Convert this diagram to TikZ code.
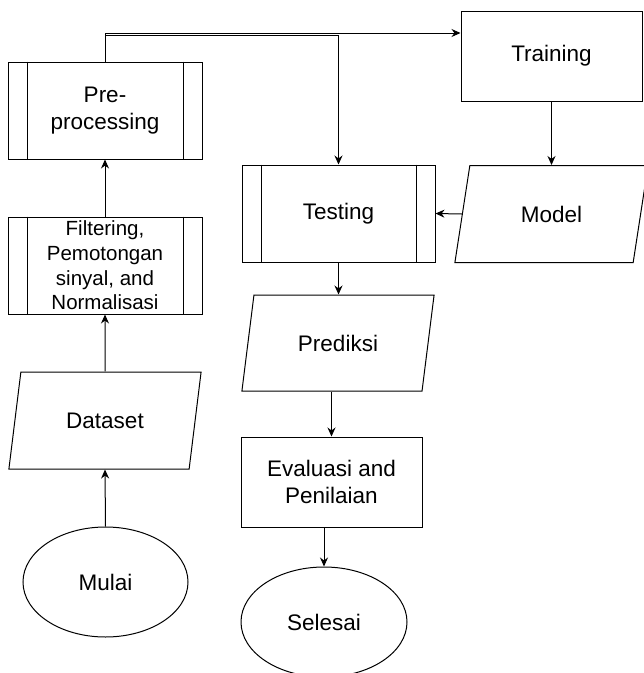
\documentclass[tikz,border=0pt]{standalone}
\usepackage{fontspec}
\setmainfont{Liberation Sans}
\usetikzlibrary{shapes.geometric,arrows.meta}
\tikzset{
    box/.style={draw, line width=1pt, rectangle, minimum width=#1, align=center,
        font=\fontsize{22.5}{27}\selectfont},
    io/.style={draw, line width=1pt, trapezium, trapezium left angle=75,
        trapezium right angle=105, trapezium stretches=true,
        minimum width=194pt, minimum height=97pt, font=\fontsize{22.5}{27}\selectfont},
    term/.style={draw, line width=1pt, ellipse, minimum width=165pt, minimum height=110pt,
        font=\fontsize{22.5}{27}\selectfont},
    arr/.style={line width=1pt, -{Stealth[length=9pt, width=8pt]}},
}
\newcommand{\sidebars}[1]{%
    \draw[line width=1pt] ([xshift=20pt]#1.north west) -- ([xshift=20pt]#1.south west);
    \draw[line width=1pt] ([xshift=-19pt]#1.north east) -- ([xshift=-19pt]#1.south east);}
\begin{document}
\begin{tikzpicture}[x=1pt, y=-1pt]
        \useasboundingbox (0, 0) rectangle (644, 673);
        \clip (0, 0) rectangle (644, 673);
        % left column
        \node[term] (mulai) at (105.5, 582) {Mulai};
        \node[io] (data) at (105, 420.5) {Dataset};
        \node[box=194pt, minimum height=97pt, font=\fontsize{20.5}{24.7}\selectfont] (filt) at (105, 265.5)
            {Filtering,\\Pemotongan\\sinyal, and\\Normalisasi};
        \sidebars{filt}
        \node[box=194pt, minimum height=97pt] (pre) at (105, 110.5) {Pre-\\processing};
        \sidebars{pre}
        % right part
        \node[box=181pt, minimum height=90pt] (train) at (551.5, 56) {Training};
        \node[io] (model) at (551.5, 214) {Model};
        \node[box=193pt, minimum height=97pt] (test) at (338.5, 213.5) {Testing};
        \sidebars{test}
        \node[io, minimum height=96pt] (pred) at (338, 343) {Prediksi};
        \node[box=181pt, minimum height=90pt] (eval) at (331.5, 482) {Evaluasi and\\Penilaian};
        \node[term, minimum width=166pt] (sel) at (324, 622) {Selesai};
        % connectors
        \draw[arr] (mulai.north) -- (data.south);
        \draw[arr] (data.north) -- (filt.south);
        \draw[arr] (filt.north) -- (pre.south);
        \draw[arr] (pre.north) |- ([yshift=23pt]train.west);
        \draw[arr] (pre.north) -- ++(0, -26) -| (test.north);
        \draw[arr] (train.south) -- (train.south |- model.north);
        \draw[arr] (model.left side) -- (test.east);
        \draw[arr] (test.south) -- (test.south |- pred.north);
        \draw[arr] (pred.south -| eval.north) -- (eval.north);
        \draw[arr] (eval.south -| sel.north) -- (sel.north);
    \end{tikzpicture}
\end{document}
